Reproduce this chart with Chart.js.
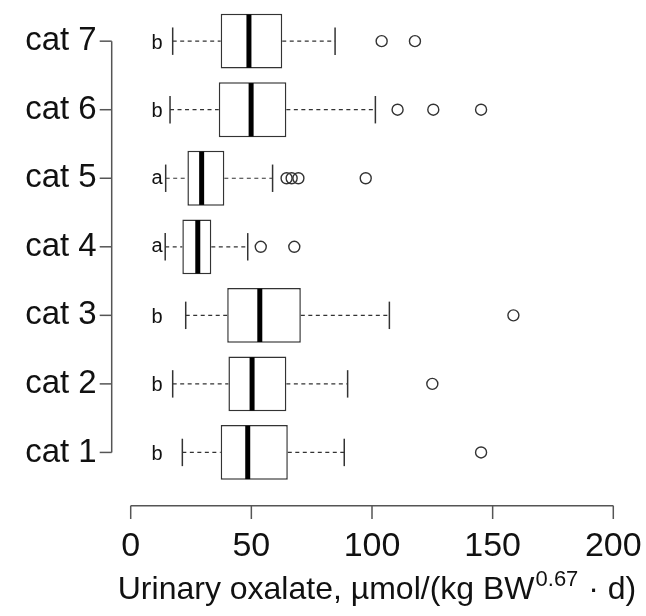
<!DOCTYPE html>
<html>
<head>
<meta charset="utf-8">
<script src="https://cdn.jsdelivr.net/npm/chart.js@4.4.1/dist/chart.umd.min.js"></script>
<style>
  html, body { margin: 0; padding: 0; background: #ffffff; }
  #wrap { width: 646px; height: 616px; }
</style>
</head>
<body>
<div id="wrap"><canvas id="c" width="646" height="616"></canvas></div>
<script>
// ---- data ----
const categories   = ['cat 1', 'cat 2', 'cat 3', 'cat 4', 'cat 5', 'cat 6', 'cat 7'];
const lowerWhisker = [21.4, 17.4, 22.8, 14.3, 14.5, 16.3, 17.4];
const q1           = [37.3, 40.5, 40.0, 21.4, 23.5, 36.5, 37.3];
const medians      = [48.5, 50.3, 53.5, 27.8, 29.4, 49.9, 49.0];
const q3           = [65.1, 64.5, 70.5, 33.4, 38.8, 64.5, 62.8];
const upperWhisker = [88.5, 89.9, 107.2, 48.5, 58.8, 101.4, 84.7];
const outliers     = [[145.2], [125.0], [158.6], [53.9, 67.8], [64.6, 66.7, 69.5, 97.4], [110.6, 125.4, 145.2], [104.0, 117.8]];
const groupLetters = ['b', 'b', 'b', 'a', 'a', 'b', 'b'];
const letterX      = 10.9;
const xTicks       = [0, 50, 100, 150, 200];
const titleMain    = 'Urinary oxalate, \u00b5mol/(kg BW';
const titleSup     = '0.67';
const titleEnd     = ' \u00b7 d)';

const FONT = '"Liberation Sans", Arial, sans-serif';

const boxData = categories.map((c, i) => [q1[i], q3[i]]);
const outlierData = [];
categories.forEach((c, i) => outliers[i].forEach(v => outlierData.push({ x: v, y: c })));

function line(ctx, x1, y1, x2, y2) {
  ctx.beginPath(); ctx.moveTo(x1, y1); ctx.lineTo(x2, y2); ctx.stroke();
}
function noPad(scale) {
  scale.paddingLeft = 0; scale.paddingRight = 0; scale.paddingTop = 0; scale.paddingBottom = 0;
}

const rPlugin = {
  id: 'rBoxplot',
  afterDatasetsDraw(chart) {
    const ctx = chart.ctx, xs = chart.scales.x, ys = chart.scales.y;
    const band = Math.abs(ys.getPixelForValue(1) - ys.getPixelForValue(0));
    const boxH = band * 0.8;
    ctx.save();
    categories.forEach((c, i) => {
      const yc = ys.getPixelForValue(i);
      const xLo = xs.getPixelForValue(lowerWhisker[i]);
      const xQ1 = xs.getPixelForValue(q1[i]);
      const xMd = xs.getPixelForValue(medians[i]);
      const xQ3 = xs.getPixelForValue(q3[i]);
      const xHi = xs.getPixelForValue(upperWhisker[i]);
      ctx.strokeStyle = '#333';
      ctx.lineWidth = 1.2;
      ctx.setLineDash([4, 3.5]);
      line(ctx, xLo, yc, xQ1, yc);
      line(ctx, xQ3, yc, xHi, yc);
      ctx.setLineDash([]);
      ctx.lineWidth = 1.5;
      line(ctx, xLo, yc - boxH / 4, xLo, yc + boxH / 4);
      line(ctx, xHi, yc - boxH / 4, xHi, yc + boxH / 4);
      ctx.strokeStyle = '#000';
      ctx.lineWidth = 5;
      ctx.lineCap = 'butt';
      line(ctx, xMd, yc - boxH / 2 + 0.75, xMd, yc + boxH / 2 - 0.75);
      // group letter
      ctx.font = '20px ' + FONT;
      ctx.fillStyle = '#111';
      ctx.textAlign = 'center';
      ctx.textBaseline = 'alphabetic';
      const m = ctx.measureText(groupLetters[i]);
      const asc = m.actualBoundingBoxAscent, desc = m.actualBoundingBoxDescent;
      ctx.fillText(groupLetters[i], xs.getPixelForValue(letterX), yc + (asc - desc) / 2);
    });

    // R-style y axis line with ticks
    const ca = chart.chartArea;
    const yTop = ys.getPixelForValue(categories.length - 1);
    const yBot = ys.getPixelForValue(0);
    const axX = ca.left - 19;
    ctx.strokeStyle = '#555';
    ctx.lineWidth = 1.5;
    line(ctx, axX, yTop, axX, yBot);
    categories.forEach((c, i) => {
      const y = ys.getPixelForValue(i);
      line(ctx, axX - 12, y, axX, y);
    });
    // R-style x axis line with ticks
    const axY = ca.bottom + 19;
    line(ctx, xs.getPixelForValue(xTicks[0]), axY, xs.getPixelForValue(xTicks[xTicks.length - 1]), axY);
    xTicks.forEach(v => {
      const x = xs.getPixelForValue(v);
      line(ctx, x, axY, x, axY + 13.3);
    });

    // axis title with superscript
    const bigF = '32px ' + FONT, supF = '22px ' + FONT;
    ctx.font = bigF; const w1 = ctx.measureText(titleMain).width; const w3 = ctx.measureText(titleEnd).width;
    ctx.font = supF; const w2 = ctx.measureText(titleSup).width;
    const total = w1 + w2 + 2 + w3;
    const cx = (ca.left + ca.right) / 2 + 5;
    let x0 = cx - total / 2;
    const base = 599;
    ctx.fillStyle = '#111';
    ctx.textAlign = 'left';
    ctx.textBaseline = 'alphabetic';
    ctx.font = bigF; ctx.fillText(titleMain, x0, base);
    ctx.font = supF; ctx.fillText(titleSup, x0 + w1 + 1, base - 13);
    ctx.font = bigF; ctx.fillText(titleEnd, x0 + w1 + w2 + 2, base);
    ctx.restore();
  }
};

new Chart(document.getElementById('c'), {
  type: 'bar',
  data: {
    labels: categories,
    datasets: [
      {
        type: 'bar',
        data: boxData,
        indexAxis: 'y',
        backgroundColor: '#ffffff',
        borderColor: '#333',
        borderWidth: 1.5,
        borderSkipped: false,
        categoryPercentage: 1.0,
        barPercentage: 0.8
      },
      {
        type: 'scatter',
        data: outlierData,
        pointStyle: 'circle',
        pointRadius: 5.5,
        pointBorderWidth: 1.4,
        pointBorderColor: '#333',
        pointBackgroundColor: 'rgba(255,255,255,0)',
        showLine: false
      }
    ]
  },
  options: {
    indexAxis: 'y',
    responsive: false,
    animation: false,
    events: [],
    layout: { padding: { left: 0, right: 32.7, top: 4.6, bottom: 0 } },
    plugins: { legend: { display: false }, tooltip: { enabled: false } },
    scales: {
      x: {
        type: 'linear',
        position: 'bottom',
        min: 0, max: 200,
        afterBuildTicks(scale) { scale.ticks = xTicks.map(v => ({ value: v })); },
        afterFit(scale) { scale.height = 616 - 486.7; noPad(scale); },
        grid: { display: false, drawTicks: false },
        border: { display: false },
        ticks: { padding: 40, color: '#111', font: { family: FONT, size: 34 }, maxRotation: 0, autoSkip: false }
      },
      y: {
        type: 'category',
        reverse: true,
        offset: true,
        afterFit(scale) { scale.width = 130.7; noPad(scale); },
        grid: { display: false, drawTicks: false },
        border: { display: false },
        ticks: { padding: 34, color: '#111', font: { family: FONT, size: 33 } }
      }
    }
  },
  plugins: [rPlugin]
});
</script>
</body>
</html>
